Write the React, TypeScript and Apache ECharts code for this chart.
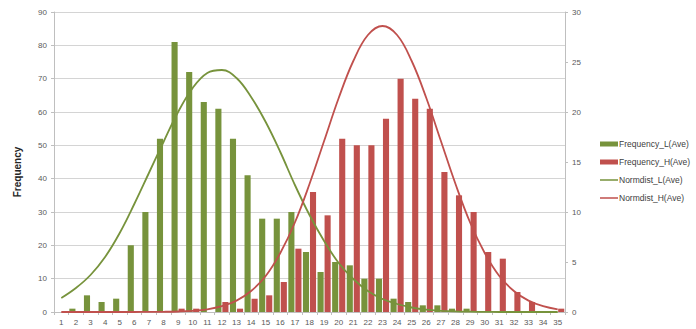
import { useEffect, useRef } from 'react';
import * as echarts from 'echarts';

const categories = ['1','2','3','4','5','6','7','8','9','10','11','12','13','14','15','16','17','18','19','20','21','22','23','24','25','26','27','28','29','30','31','32','33','34','35'];

const freqL = [0,1,5,3,4,20,30,52,81,72,63,61,52,41,28,28,30,18,12,15,14,10,10,4,3,2,2,1,1,0,0,0,0,0,0];
const freqH = [0,0,0,0,0,0,0,0,1,1,0,3,1,4,5,9,19,36,29,52,50,50,58,70,64,61,42,35,30,18,16,6,3,0,1];

const normL = [1.4,2.4,3.7,5.5,7.9,10.8,13.9,17.0,20.0,22.4,23.9,24.2,23.4,21.5,19.0,16.0,12.7,9.7,7.1,4.9,3.3,2.1,1.3,0.8,0.45,0.23,0.12,0.06,0.03,0.01,0,0,0,0,0];
const normH = [0,0,0,0,0,0,0.01,0.02,0.05,0.12,0.27,0.58,1.14,2.1,3.6,5.9,8.95,12.8,17.1,21.4,25.1,27.7,28.6,27.7,25.1,21.4,17.1,12.8,8.95,5.9,3.6,2.1,1.14,0.58,0.27];

const leftTicks = { min: 0, max: 90, interval: 10 };
const rightTicks = { min: 0, max: 30, interval: 5 };

const GREEN = '#77933C';
const RED = '#C0504D';
const FONT = 'Liberation Sans';
const LINE_ICON = 'path://M0,0L0.1,0Z M0,1.8L18,1.8L18,3.2L0,3.2Z M0,5L0.1,5Z';

export default function App() {
  const ref = useRef<HTMLDivElement>(null);
  useEffect(() => {
    const chart = echarts.init(ref.current!, null, { renderer: 'svg' });
    chart.setOption({
      animation: false,
      backgroundColor: '#ffffff',
      textStyle: { fontFamily: FONT },
      grid: { left: 54, right: 131, top: 12, bottom: 17, containLabel: false },
      legend: {
        orient: 'vertical',
        left: 600,
        top: 139,
        padding: 0,
        itemWidth: 18,
        itemHeight: 5,
        itemGap: 8,
        textStyle: { fontSize: 8.5, color: '#404040', lineHeight: 10, fontFamily: FONT, padding: [0, 0, 0, -4] },
        data: [
          { name: 'Frequency_L(Ave)', icon: 'rect' },
          { name: 'Frequency_H(Ave)', icon: 'rect' },
          { name: 'Normdist_L(Ave)', icon: LINE_ICON, itemStyle: { color: GREEN, borderWidth: 0 } },
          { name: 'Normdist_H(Ave)', icon: LINE_ICON, itemStyle: { color: RED, borderWidth: 0 } },
        ],
      },
      graphic: [
        {
          type: 'text',
          x: 17,
          y: 172,
          rotation: Math.PI / 2,
          style: {
            text: 'Frequency',
            fontSize: 10,
            fontWeight: 'bold',
            fill: '#262626',
            fontFamily: FONT,
            align: 'center',
            verticalAlign: 'middle',
          },
        },
      ],
      xAxis: {
        type: 'category',
        data: categories,
        boundaryGap: true,
        axisLine: { show: true, lineStyle: { color: '#bfbfbf', width: 1 } },
        axisTick: { show: true, length: 3, interval: 0, lineStyle: { color: '#bfbfbf' } },
        axisLabel: { fontSize: 8, color: '#595959', margin: 6, interval: 0, fontFamily: FONT },
        splitLine: { show: false },
      },
      yAxis: [
        {
          type: 'value',
          ...leftTicks,
          axisLine: { show: true, lineStyle: { color: '#bfbfbf', width: 1 } },
          axisTick: { show: true, length: 3, lineStyle: { color: '#bfbfbf' } },
          axisLabel: { fontSize: 8, color: '#595959', margin: 7, fontFamily: FONT },
          splitLine: { show: true, lineStyle: { color: '#d4d4d4', width: 1 } },
        },
        {
          type: 'value',
          position: 'right',
          ...rightTicks,
          axisLine: { show: true, lineStyle: { color: '#bfbfbf', width: 1 } },
          axisTick: { show: true, length: 3, lineStyle: { color: '#bfbfbf' } },
          axisLabel: { fontSize: 8, color: '#595959', margin: 7, fontFamily: FONT },
          splitLine: { show: false },
        },
      ],
      series: [
        {
          name: 'Frequency_L(Ave)',
          type: 'bar',
          yAxisIndex: 0,
          data: freqL,
          barCategoryGap: '10%',
          barGap: '15%',
          itemStyle: { color: GREEN },
        },
        {
          name: 'Frequency_H(Ave)',
          type: 'bar',
          yAxisIndex: 0,
          data: freqH,
          barCategoryGap: '10%',
          barGap: '15%',
          itemStyle: { color: RED },
        },
        {
          name: 'Normdist_L(Ave)',
          type: 'line',
          yAxisIndex: 1,
          data: normL,
          smooth: 0.4,
          symbol: 'none',
          lineStyle: { color: GREEN, width: 1.8 },
          itemStyle: { color: GREEN },
        },
        {
          name: 'Normdist_H(Ave)',
          type: 'line',
          yAxisIndex: 1,
          data: normH,
          smooth: 0.4,
          symbol: 'none',
          lineStyle: { color: RED, width: 1.8 },
          itemStyle: { color: RED },
        },
      ],
    });
    return () => chart.dispose();
  }, []);
  return (
    <div
      ref={ref}
      style={{ position: 'fixed', left: 0, top: 0, width: 696, height: 329, background: '#fff' }}
    />
  );
}
